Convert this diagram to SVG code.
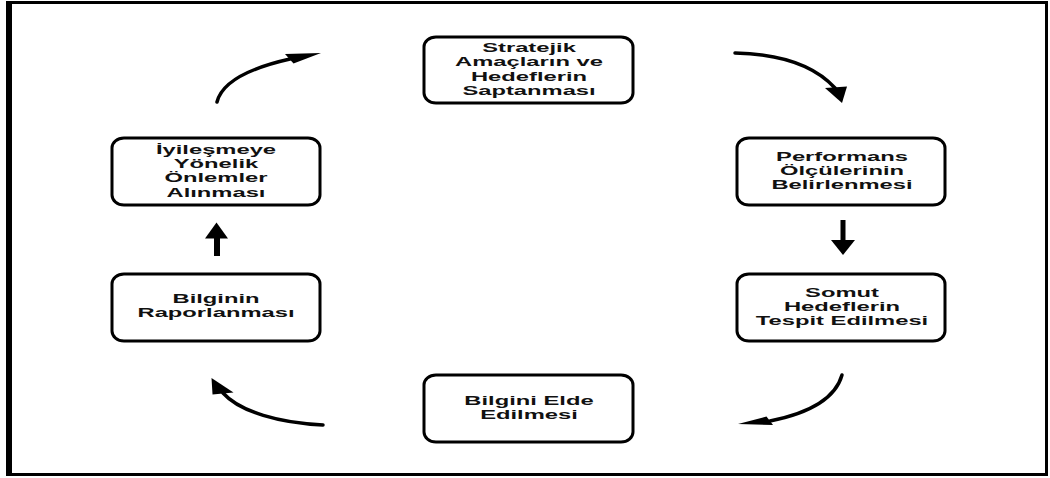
<svg xmlns="http://www.w3.org/2000/svg" width="1050" height="478" viewBox="0 0 1050 478">
<style>
.box{fill:#fff;stroke:#000;stroke-width:3}
.t{font-family:"Liberation Sans",Arial,sans-serif;font-weight:bold;font-size:12.5px;fill:#111;text-anchor:middle}
.arc{fill:none;stroke:#000;stroke-width:3.5;stroke-linecap:round}
.head{fill:#000}
</style>
<rect x="0" y="0" width="1050" height="478" fill="#fff"/>
<g id="frame">
<rect x="6" y="1" width="6" height="475" fill="#000"/>
<rect x="6" y="1" width="1042" height="3" fill="#000"/>
<rect x="1045" y="1" width="3" height="475" fill="#000"/>
<rect x="6" y="473" width="1042" height="3" fill="#000"/>
</g>
<g id="n1">
<rect class="box" x="424" y="37" width="209" height="66" rx="12" ry="10"/>
<text class="t" transform="translate(529,52) scale(1.9,1)"><tspan x="0" y="0">Stratejik</tspan><tspan x="0" y="14.4">Amaçların ve</tspan><tspan x="0" y="28.8">Hedeflerin</tspan><tspan x="0" y="43.2">Saptanması</tspan></text>
</g>
<g id="n2">
<rect class="box" x="737" y="138" width="208" height="67" rx="12" ry="10"/>
<text class="t" transform="translate(842,160.5) scale(1.9,1)"><tspan x="0" y="0">Performans</tspan><tspan x="0" y="14.4">Ölçülerinin</tspan><tspan x="0" y="28.8">Belirlenmesi</tspan></text>
</g>
<g id="n3">
<rect class="box" x="737" y="274" width="208" height="67" rx="12" ry="10"/>
<text class="t" transform="translate(842,296.5) scale(1.9,1)"><tspan x="0" y="0">Somut</tspan><tspan x="0" y="14.2">Hedeflerin</tspan><tspan x="0" y="28.4">Tespit Edilmesi</tspan></text>
</g>
<g id="n4">
<rect class="box" x="424" y="375" width="209" height="67" rx="12" ry="10"/>
<text class="t" transform="translate(529,404.5) scale(1.9,1)"><tspan x="0" y="0">Bilgini Elde</tspan><tspan x="0" y="14.4">Edilmesi</tspan></text>
</g>
<g id="n5">
<rect class="box" x="112" y="274" width="208" height="67" rx="12" ry="10"/>
<text class="t" transform="translate(216,303) scale(1.9,1)"><tspan x="0" y="0">Bilginin</tspan><tspan x="0" y="14.4">Raporlanması</tspan></text>
</g>
<g id="n6">
<rect class="box" x="112" y="138" width="208" height="67" rx="12" ry="10"/>
<text class="t" transform="translate(216,153.5) scale(1.9,1)"><tspan x="0" y="0">İyileşmeye</tspan><tspan x="0" y="14.4">Yönelik</tspan><tspan x="0" y="28.8">Önlemler</tspan><tspan x="0" y="43.2">Alınması</tspan></text>
</g>
<g id="connectors">
<path class="arc" d="M735,53 C780,54 815,66 835,88"/>
<polygon class="head" points="842,103 825,88 847,86.5"/>
<rect x="840.5" y="220" width="5" height="22" fill="#000"/>
<polygon class="head" points="831,240 855,240 843,255"/>
<path class="arc" d="M842,375 C835,400 805,414 770,421"/>
<polygon class="head" points="738,424 766.5,416.5 773,425"/>
<path class="arc" d="M323,425 C280,423 240,412 223,393"/>
<polygon class="head" points="211.5,378 212.5,394.5 233.5,392.5"/>
<rect x="214" y="237" width="6" height="19" fill="#000"/>
<polygon class="head" points="205,238.5 228,238.5 216.5,222.5"/>
<path class="arc" d="M217,102 C222,82 250,68 290,59"/>
<polygon class="head" points="321,53 285,54 293.5,63.5"/>
</g>
</svg>
